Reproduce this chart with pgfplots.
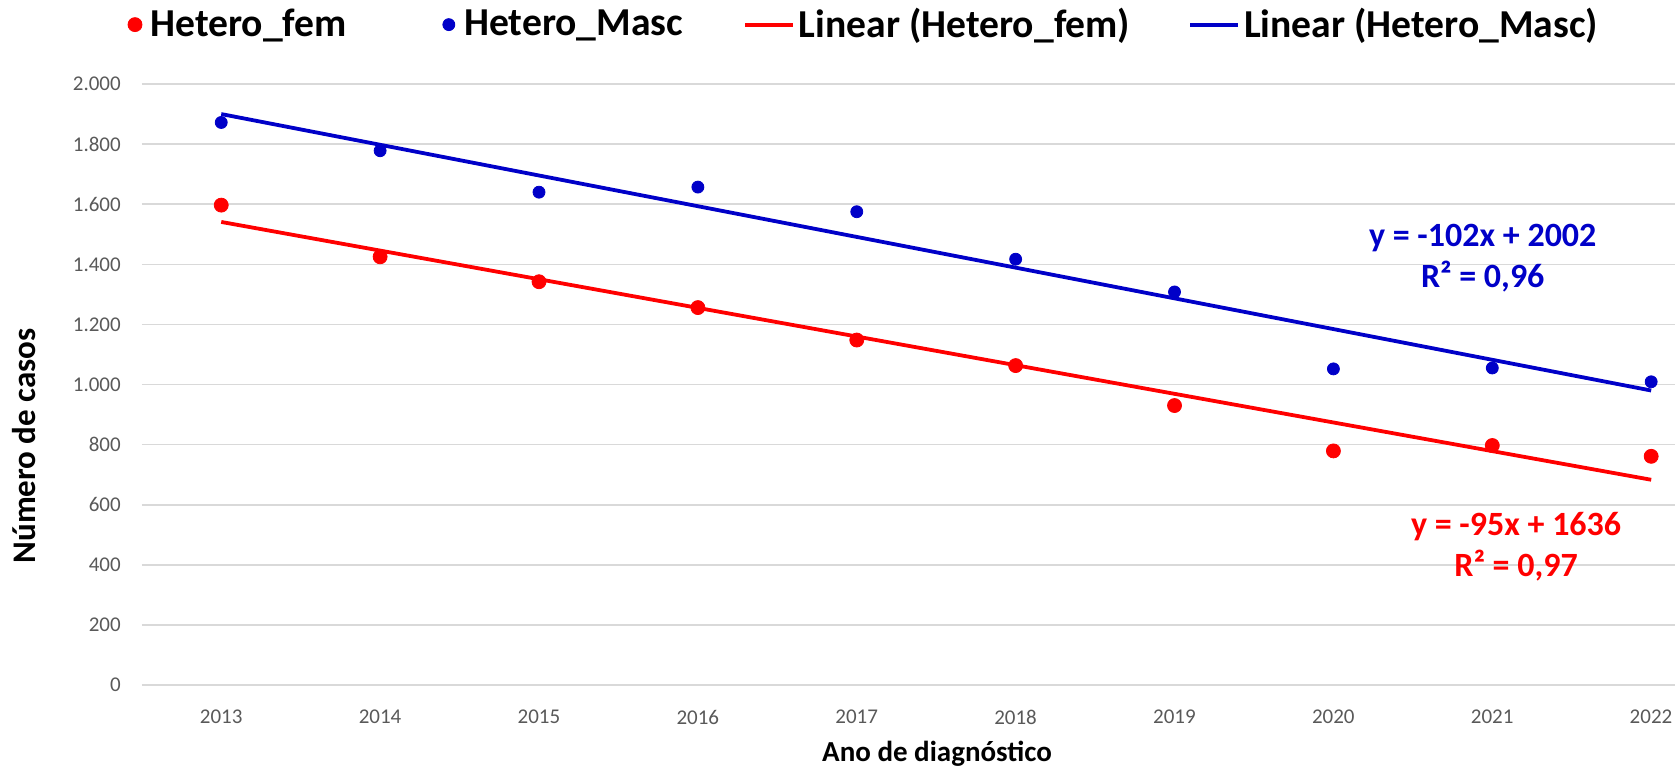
\documentclass[border=0pt]{standalone}
\usepackage{fontspec}
\setmainfont{Carlito}
\usepackage{pgfplots}
\pgfplotsset{compat=1.18}

\definecolor{fem}{RGB}{255,0,0}
\definecolor{masc}{RGB}{0,0,200}
\definecolor{gridgray}{RGB}{217,217,217}
\definecolor{ticktext}{RGB}{89,89,89}

\pgfplotsset{
    dotlegend/.style={legend image code/.code={\draw[##1] plot coordinates {(0pt,0pt)}; \path (5.5pt,0pt);}},
    linelegend/.style={legend image code/.code={\draw[##1] (0pt,0pt) -- (24pt,0pt);}},
}

\begin{document}
\begin{tikzpicture}
\useasboundingbox (-70.9pt,-41.5pt) rectangle (766.6pt,342.5pt);
\begin{axis}[
    scale only axis,
    width=766.6pt, height=300.5pt,
    xmin=2012.5, xmax=2022.15,
    ymin=0, ymax=2000,
    xtick={2013,...,2022},
    ytick={0,200,...,2000},
    scaled y ticks=false,
    ymajorgrids=true,
    grid style={gridgray, line width=0.8pt},
    axis line style={draw=none},
    tick style={draw=none},
    /pgf/number format/assume math mode=true,
    x tick label style={/pgf/number format/.cd, 1000 sep={}, /tikz/.cd,
        font=\fontsize{10.5}{12}\selectfont, text=ticktext, anchor=center, yshift=-16pt},
    y tick label style={/pgf/number format/.cd, 1000 sep={.}, /tikz/.cd,
        font=\fontsize{10.5}{12}\selectfont, text=ticktext, xshift=-7pt},
    xlabel={Ano de diagnóstico},
    ylabel={Número de casos},
    every axis x label/.style={at={(axis description cs:0.5187,0)}, anchor=center,
        yshift=-34.5pt, font=\fontsize{14.5}{17}\selectfont\bfseries},
    every axis y label/.style={at={(axis description cs:-0.0771,0.398)}, anchor=center,
        rotate=90, font=\fontsize{16.5}{19}\selectfont\bfseries},
    legend columns=4,
    legend style={at={(0.4717,1.0988)}, anchor=center, draw=none, fill=none,
        font=\fontsize{19.8}{23}\selectfont\bfseries,
        /tikz/column 2/.style={column sep=46pt},
        /tikz/column 4/.style={column sep=28pt},
        /tikz/column 6/.style={column sep=27pt}},
]
% scatter points
\addplot[only marks, mark=*, mark size=3.5pt, color=fem, dotlegend] coordinates {
    (2013,1597)(2014,1425)(2015,1342)(2016,1256)(2017,1148)
    (2018,1063)(2019,930)(2020,779)(2021,797)(2022,761)
};
\addlegendentry{Hetero\_fem}
\addplot[only marks, mark=*, mark size=3pt, color=masc, dotlegend] coordinates {
    (2013,1872)(2014,1778)(2015,1640)(2016,1657)(2017,1575)
    (2018,1417)(2019,1308)(2020,1052)(2021,1055)(2022,1009)
};
\addlegendentry{Hetero\_Masc}
% trend lines
\addplot[color=fem, line width=1.9pt, linelegend] coordinates {(2013,1541)(2022,683)};
\addlegendentry{Linear (Hetero\_fem)}
\addplot[color=masc, line width=1.9pt, linelegend] coordinates {(2013,1900)(2022,980)};
\addlegendentry{Linear (Hetero\_Masc)}

\node[masc, align=center, font=\fontsize{17}{20.5}\selectfont\bfseries]
    at (axis cs:2020.94,1422) {y = -102x + 2002\\R² = 0,96};
\node[fem, align=center, font=\fontsize{17}{20.5}\selectfont\bfseries]
    at (axis cs:2021.15,461) {y = -95x + 1636\\R² = 0,97};
\end{axis}
\end{tikzpicture}
\end{document}
